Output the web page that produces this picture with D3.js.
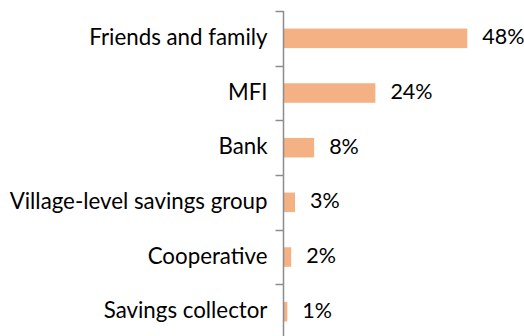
<!DOCTYPE html>
<html><head><meta charset="utf-8">
<script src="https://cdn.jsdelivr.net/npm/d3@7"></script>
<style>html,body{margin:0;padding:0;background:#fff;}svg{display:block;}</style>
</head><body>
<svg id="c" width="524" height="336"></svg>
<script>
const categories = ["Friends and family","MFI","Bank","Village-level savings group","Cooperative","Savings collector"];
const values = [48, 24, 8, 3, 2, 1];
const valueLabels = ["48%","24%","8%","3%","2%","1%"];

const svg = d3.select("#c");
const axisX = 283.5, topY = 11, step = 54.67;
const font = "Lato, 'Open Sans', sans-serif";

const x = d3.scaleLinear().domain([0, 48]).range([axisX, 467.3]);
const y0 = d3.scaleBand().domain(categories).range([topY, topY + step*categories.length]).padding(0);
const y = d3.scaleBand().domain(categories).range([topY, topY + step*categories.length]).paddingInner(0.643).paddingOuter(0.3215);

svg.selectAll("rect.bar").data(values).enter().append("rect")
  .attr("class","bar")
  .attr("x", x(0))
  .attr("y", (d,i)=>y(categories[i]))
  .attr("width", d=>x(d)-x(0))
  .attr("height", y.bandwidth())
  .attr("fill", "#F4B183");

const g = svg.append("g");
g.append("line").attr("x1",axisX).attr("x2",axisX).attr("y1",topY).attr("y2",topY+step*categories.length)
  .attr("stroke","#8c8c8c").attr("stroke-width",1.5);
const bounds = categories.map(c=>y0(c)).concat([topY+step*categories.length]);
g.selectAll("line.t").data(bounds).enter().append("line").attr("class","t")
  .attr("x1",axisX-8).attr("x2",axisX).attr("y1",d=>Math.round(d)+0.5).attr("y2",d=>Math.round(d)+0.5)
  .attr("stroke","#8c8c8c").attr("stroke-width",1.5);

svg.selectAll("text.cat").data(categories).enter().append("text").attr("class","cat")
  .attr("x", 267.5).attr("y", d=>y(d)+y.bandwidth()/2+6.5)
  .attr("text-anchor","end").attr("font-family",font).attr("font-size",22.3).attr("fill","#000")
  .text(d=>d);

svg.selectAll("text.val").data(values).enter().append("text").attr("class","val")
  .attr("x", d=>x(d)+15).attr("y", (d,i)=>y(categories[i])+y.bandwidth()/2+6)
  .attr("font-family",font).attr("font-size",21.5).attr("fill","#000")
  .text((d,i)=>valueLabels[i]);
</script>
</body></html>
